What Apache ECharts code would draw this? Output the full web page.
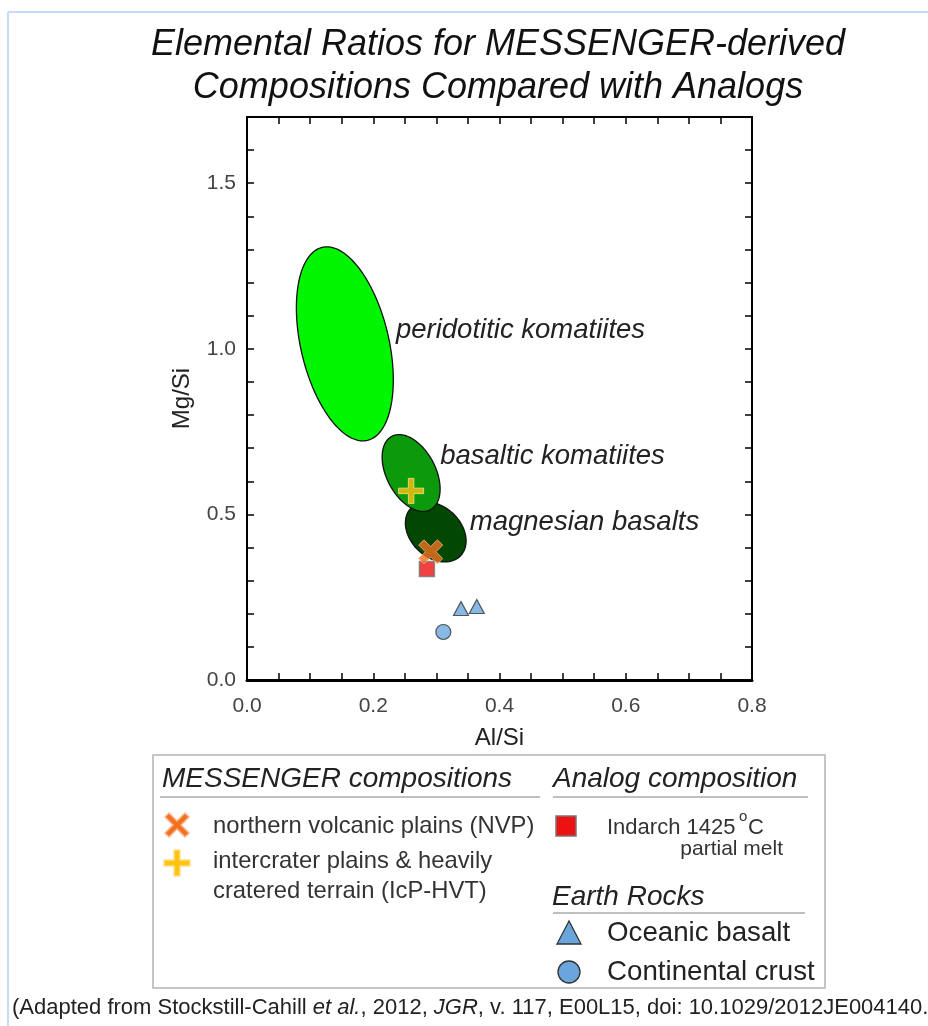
<!DOCTYPE html>
<html>
<head>
<meta charset="utf-8">
<script src="https://cdn.jsdelivr.net/npm/echarts@6/dist/echarts.min.js"></script>
<style>
html,body{margin:0;padding:0;background:#fff;}
#chart{width:928px;height:1026px;}
</style>
</head>
<body>
<div id="chart"></div>
<script>
// ---- data (Al/Si, Mg/Si) ----
const regionNames = ['peridotitic komatiites', 'basaltic komatiites', 'magnesian basalts'];
const regionColors = ['#00f500', '#0c9a0c', '#024802'];
// ellipse = centre + conjugate half-axis vectors (a tilted, b horizontal), in data units
const regionCenterX = [0.155, 0.260, 0.299];
const regionCenterY = [1.015, 0.625, 0.447];
const regionAX = [-0.0285, -0.019, -0.0143];
const regionAY = [0.293, 0.116, 0.0906];
const regionBX = [0.0713, 0.0418, 0.0459];
const regionLabelX = [0.236, 0.306, 0.353];
const regionLabelY = [1.057, 0.674, 0.477];

const nvp = [[0.291, 0.387]];
const icpHvt = [[0.260, 0.571]];
const indarch = [[0.285, 0.335]];
const oceanicBasalt = [[0.339, 0.216], [0.364, 0.222]];
const continentalCrust = [[0.311, 0.145]];

const xTickLabels = ['0.0', '0.2', '0.4', '0.6', '0.8'];
const yTickLabels = ['0.0', '0.5', '1.0', '1.5'];

const FONT = '"Liberation Sans", Arial, sans-serif';
const X_PATH = 'path://M0,2.2 L2.2,0 L5,2.8 L7.8,0 L10,2.2 L7.2,5 L10,7.8 L7.8,10 L5,7.2 L2.2,10 L0,7.8 L2.8,5 Z';
const PLUS_PATH = 'path://M3.9,0 H6.1 V3.9 H10 V6.1 H6.1 V10 H3.9 V6.1 H0 V3.9 H3.9 Z';

const chart = echarts.init(document.getElementById('chart'), null, {renderer: 'canvas'});

// draw order: magnesian, basaltic, peridotitic
const ellipseData = [2, 1, 0].map(i => ({
  value: [regionCenterX[i], regionCenterY[i], regionAX[i], regionAY[i], regionBX[i], i]
}));
const labelData = regionNames.map((n, i) => ({value: [regionLabelX[i], regionLabelY[i], i]}));

function xFmt(v) {
  const k = v * 5;
  if (Math.abs(k - Math.round(k)) < 1e-6) return xTickLabels[Math.round(k)] || '';
  return '';
}
function yFmt(v) {
  const k = v * 2;
  if (Math.abs(k - Math.round(k)) < 1e-6) return yTickLabels[Math.round(k)] || '';
  return '';
}

const tickStyle = {show: true, inside: true, length: 7, lineStyle: {color: '#000', width: 1.5}};

const option = {
  animation: false,
  backgroundColor: '#fff',
  grid: {left: 247, right: 176, top: 117, bottom: 346},
  xAxis: [
    {
      type: 'value', min: 0, max: 0.8, interval: 0.05, position: 'bottom',
      axisLine: {show: true, onZero: false, lineStyle: {color: '#000', width: 3}},
      axisTick: tickStyle,
      splitLine: {show: false},
      axisLabel: {formatter: xFmt, fontSize: 21, color: '#444', margin: 16, fontFamily: FONT},
      name: 'Al/Si', nameLocation: 'middle', nameGap: 46,
      nameTextStyle: {fontSize: 24, color: '#222', fontFamily: FONT}
    },
    {
      type: 'value', min: 0, max: 0.8, interval: 0.05, position: 'top',
      axisLine: {show: true, onZero: false, lineStyle: {color: '#000', width: 2}},
      axisTick: tickStyle, axisLabel: {show: false}, splitLine: {show: false}
    }
  ],
  yAxis: [
    {
      type: 'value', min: 0, max: 1.7, interval: 0.1, position: 'left',
      axisLine: {show: true, onZero: false, lineStyle: {color: '#000', width: 2}},
      axisTick: tickStyle,
      splitLine: {show: false},
      axisLabel: {formatter: yFmt, fontSize: 21, color: '#444', margin: 11, fontFamily: FONT},
      name: 'Mg/Si', nameLocation: 'middle', nameGap: 53,
      nameTextStyle: {fontSize: 24, color: '#222', fontFamily: FONT}
    },
    {
      type: 'value', min: 0, max: 1.7, interval: 0.1, position: 'right',
      axisLine: {show: true, onZero: false, lineStyle: {color: '#000', width: 2}},
      axisTick: tickStyle, axisLabel: {show: false}, splitLine: {show: false}
    }
  ],
  series: [
    {
      type: 'custom', name: 'regions', xAxisIndex: 0, yAxisIndex: 0, clip: true,
      data: ellipseData,
      renderItem: function (params, api) {
        const cx = api.value(0), cy = api.value(1), ax = api.value(2), ay = api.value(3), bx = api.value(4);
        const idx = api.value(5);
        const pts = [];
        for (let k = 0; k < 120; k++) {
          const t = k / 120 * Math.PI * 2;
          pts.push(api.coord([cx + ax * Math.cos(t) + bx * Math.sin(t), cy + ay * Math.cos(t)]));
        }
        return {
          type: 'polygon', shape: {points: pts},
          style: {fill: regionColors[idx], stroke: '#111', lineWidth: 1.3}
        };
      }
    },
    {
      type: 'custom', name: 'regionLabels', xAxisIndex: 0, yAxisIndex: 0,
      data: labelData,
      renderItem: function (params, api) {
        const p = api.coord([api.value(0), api.value(1)]);
        return {
          type: 'text', x: p[0], y: p[1],
          style: {
            text: regionNames[api.value(2)], fill: '#222',
            font: 'italic 27.5px ' + FONT, textAlign: 'left', textVerticalAlign: 'middle'
          }
        };
      }
    },
    {
      type: 'scatter', name: 'Indarch', data: indarch, symbol: 'rect', symbolSize: 15,
      itemStyle: {color: '#ee1111', borderColor: '#777', borderWidth: 1.5}, z: 5
    },
    {
      type: 'scatter', name: 'NVP', data: nvp, symbol: X_PATH, symbolSize: 24,
      itemStyle: {color: '#f37021', borderColor: '#f9b58a', borderWidth: 1}, z: 6
    },
    {
      type: 'scatter', name: 'IcP-HVT', data: icpHvt, symbol: PLUS_PATH, symbolSize: 25,
      itemStyle: {color: '#ffc20e', borderColor: '#ffe08a', borderWidth: 1}, z: 6
    },
    {
      type: 'scatter', name: 'Oceanic basalt', data: oceanicBasalt, symbol: 'triangle', symbolSize: [15, 14],
      itemStyle: {color: '#6aa6dc', borderColor: '#333', borderWidth: 1.2}, z: 5
    },
    {
      type: 'scatter', name: 'Continental crust', data: continentalCrust, symbol: 'circle', symbolSize: 15,
      itemStyle: {color: '#6aa6dc', borderColor: '#333', borderWidth: 1.2}, z: 5
    }
  ],
  graphic: [
    // outer page frame
    {type: 'line', shape: {x1: 8, y1: 12, x2: 928, y2: 12}, style: {stroke: '#c6dafc', lineWidth: 2}},
    {type: 'line', shape: {x1: 8, y1: 12, x2: 8, y2: 1026}, style: {stroke: '#c6dafc', lineWidth: 2}},
    // title
    {type: 'text', x: 498, y: 45, style: {text: 'Elemental Ratios for MESSENGER-derived', font: 'italic 36px ' + FONT, fill: '#111', textAlign: 'center', textVerticalAlign: 'middle'}},
    {type: 'text', x: 498, y: 88, style: {text: 'Compositions Compared with Analogs', font: 'italic 36px ' + FONT, fill: '#111', textAlign: 'center', textVerticalAlign: 'middle'}},
    // legend box
    {type: 'rect', shape: {x: 153, y: 755, width: 672, height: 233}, style: {fill: 'none', stroke: '#b4b4b4', lineWidth: 1.5}},
    {type: 'text', x: 162, y: 779, style: {text: 'MESSENGER compositions', font: 'italic 28px ' + FONT, fill: '#222', textVerticalAlign: 'middle'}},
    {type: 'line', shape: {x1: 160, y1: 797, x2: 540, y2: 797}, style: {stroke: '#aaa', lineWidth: 1.5}},
    {type: 'text', x: 553, y: 779, style: {text: 'Analog composition', font: 'italic 28px ' + FONT, fill: '#222', textVerticalAlign: 'middle'}},
    {type: 'line', shape: {x1: 553, y1: 797, x2: 808, y2: 797}, style: {stroke: '#aaa', lineWidth: 1.5}},
    {type: 'polygon', shape: {points: [[165,817],[169,813],[177,821],[185,813],[189,817],[181,825],[189,833],[185,837],[177,829],[169,837],[165,833],[173,825]]}, style: {fill: '#f37021', stroke: '#f9b58a', lineWidth: 1.5}},
    {type: 'text', x: 213, y: 826, style: {text: 'northern volcanic plains (NVP)', font: '23.8px ' + FONT, fill: '#333', textVerticalAlign: 'middle'}},
    {type: 'polygon', shape: {points: [[174,850],[180,850],[180,860],[190,860],[190,866],[180,866],[180,876],[174,876],[174,866],[164,866],[164,860],[174,860]]}, style: {fill: '#ffc20e', stroke: '#ffe08a', lineWidth: 1.5}},
    {type: 'text', x: 213, y: 861, style: {text: 'intercrater plains & heavily', font: '23.8px ' + FONT, fill: '#333', textVerticalAlign: 'middle'}},
    {type: 'text', x: 213, y: 891, style: {text: 'cratered terrain (IcP-HVT)', font: '23.8px ' + FONT, fill: '#333', textVerticalAlign: 'middle'}},
    {type: 'rect', shape: {x: 556, y: 816, width: 20, height: 20}, style: {fill: '#ee1111', stroke: '#777', lineWidth: 1.5}},
    {type: 'text', x: 607, y: 828, style: {text: 'Indarch 1425', font: '22px ' + FONT, fill: '#333', textVerticalAlign: 'middle'}},
    {type: 'text', x: 739, y: 817, style: {text: 'o', font: '15px ' + FONT, fill: '#333', textVerticalAlign: 'middle'}},
    {type: 'text', x: 748, y: 828, style: {text: 'C', font: '22px ' + FONT, fill: '#333', textVerticalAlign: 'middle'}},
    {type: 'text', x: 783, y: 849, style: {text: 'partial melt', font: '21px ' + FONT, fill: '#333', textAlign: 'right', textVerticalAlign: 'middle'}},
    {type: 'text', x: 552, y: 897, style: {text: 'Earth Rocks', font: 'italic 28px ' + FONT, fill: '#222', textVerticalAlign: 'middle'}},
    {type: 'line', shape: {x1: 553, y1: 913, x2: 805, y2: 913}, style: {stroke: '#aaa', lineWidth: 1.5}},
    {type: 'polygon', shape: {points: [[569,921],[557,944],[581,944]]}, style: {fill: '#6aa6dc', stroke: '#333', lineWidth: 1.3}},
    {type: 'text', x: 607, y: 933, style: {text: 'Oceanic basalt', font: '27.7px ' + FONT, fill: '#222', textVerticalAlign: 'middle'}},
    {type: 'circle', shape: {cx: 569, cy: 972, r: 11}, style: {fill: '#6aa6dc', stroke: '#333', lineWidth: 1.3}},
    {type: 'text', x: 607, y: 972, style: {text: 'Continental crust', font: '27.7px ' + FONT, fill: '#222', textVerticalAlign: 'middle'}},
    // footer
    {type: 'text', x: 12, y: 1008, style: {
      text: '{n|(Adapted from Stockstill-Cahill }{i|et al.}{n|, 2012, }{i|JGR}{n|, v. 117, E00L15, doi: 10.1029/2012JE004140.)}',
      textVerticalAlign: 'middle', fill: '#222',
      rich: {
        n: {fontSize: 22, fontFamily: FONT, fill: '#222', color: '#222'},
        i: {fontSize: 22, fontFamily: FONT, fontStyle: 'italic', fill: '#222', color: '#222'}
      }
    }}
  ]
};
chart.setOption(option);
</script>
</body>
</html>
